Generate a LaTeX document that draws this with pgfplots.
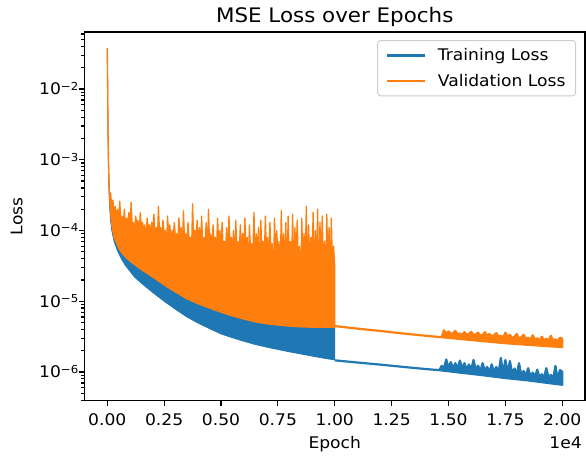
\documentclass[border=0pt]{standalone}
\usepackage{pgfplots}
\pgfplotsset{compat=1.18}
\usepackage{fontspec}
\setmainfont{DejaVu Sans}[FakeStretch=1.07]
\definecolor{mblue}{HTML}{1F77B4}
\definecolor{morange}{HTML}{FF7F0E}
\newcommand{\sci}[1]{10\raisebox{4.5pt}{\fontsize{11}{13}\selectfont −#1}}
\begin{document}
\begin{tikzpicture}[font=\fontsize{16}{19}\selectfont]
\useasboundingbox (0,0) rectangle (586pt,455pt);
\begin{axis}[
  at={(84.5pt,54.5pt)}, anchor=south west,
  scale only axis, width=500.5pt, height=368.5pt,
  clip mode=individual,
  xmin=-1000, xmax=21000,
  ymode=log, ymin=3.95e-7, ymax=0.064,
  xtick={0,2500,5000,7500,10000,12500,15000,17500,20000},
  xticklabels={0.00,0.25,0.50,0.75,1.00,1.25,1.50,1.75,2.00},
  scaled x ticks=false,
  ytick={1e-6,1e-5,1e-4,1e-3,1e-2},
  yticklabels={\sci{6},\sci{5},\sci{4},\sci{3},\sci{2}},
  minor ytick={4e-7,5e-7,6e-7,7e-7,8e-7,9e-7,
    2e-6,3e-6,4e-6,5e-6,6e-6,7e-6,8e-6,9e-6,
    2e-5,3e-5,4e-5,5e-5,6e-5,7e-5,8e-5,9e-5,
    2e-4,3e-4,4e-4,5e-4,6e-4,7e-4,8e-4,9e-4,
    2e-3,3e-3,4e-3,5e-3,6e-3,7e-3,8e-3,9e-3,
    2e-2,3e-2,4e-2,5e-2,6e-2},
  tick align=outside, xtick pos=left, ytick pos=left,
  major tick length=5.5pt, minor tick length=3.1pt,
  tick style={black, line width=1.2pt},
  axis line style={black, line width=1.2pt},
  xticklabel style={anchor=base, yshift=-19.5pt, inner sep=0pt},
  yticklabel style={anchor=base east, xshift=-0.5pt, yshift=-5.85pt, inner sep=0pt},
  title={MSE Loss over Epochs},
  title style={font=\fontsize{20}{24}\selectfont, at={(axis description cs:0.5,1)}, anchor=base, yshift=4pt, inner sep=0pt},
  xlabel={Epoch},
  xlabel style={at={(axis description cs:0.5,0)}, anchor=base, yshift=-47.5pt, inner sep=0pt},
  legend style={at={(1,1)}, anchor=north east, xshift=-9pt, yshift=-8pt,
    draw=black!20, line width=1pt, rounded corners=3pt,
    inner xsep=8pt, inner ysep=6pt, row sep=8pt,
    font=\fontsize{16}{19}\selectfont, cells={anchor=west}},
  legend image code/.code={\draw[#1] (0pt,0pt) -- (38pt,0pt); \path (48pt,0pt);},
]
% Training loss, epochs 0-10000: band between lower edge and (hidden) top
\addplot[forget plot, draw=mblue, fill=mblue, line width=0.8pt, line join=round] coordinates {
(0,0.038) (15,0.014) (30,3.5e-3) (50,1.2e-3) (75,5.5e-4) (100,3.3e-4) (150,1.9e-4) (200,1.3e-4)
(300,8.8e-5) (450,6.8e-5) (600,5.5e-5) (800,4.6e-5) (1000,4.1e-5) (1200,3.6e-5) (1500,3.1e-5)
(2000,2.4e-5) (2500,1.9e-5) (3000,1.5e-5) (3500,1.2e-5) (4000,1.0e-5) (4500,8.8e-6) (5000,7.7e-6)
(5500,6.8e-6) (6000,6.2e-6) (6500,5.6e-6) (7000,5.3e-6) (7500,5.1e-6) (8000,4.9e-6) (8500,4.8e-6)
(9000,4.7e-6) (9500,4.7e-6) (10000,4.7e-6)
(10000,1.48e-6) (9500,1.57e-6) (9000,1.68e-6) (8500,1.8e-6) (8000,1.93e-6) (7500,2.08e-6)
(7000,2.25e-6) (6500,2.45e-6) (6000,2.72e-6) (5500,3.05e-6) (5000,3.45e-6) (4500,4.1e-6)
(4000,4.9e-6) (3500,6.0e-6) (3000,7.7e-6) (2500,1.0e-5) (2000,1.33e-5) (1500,1.8e-5) (1200,2.2e-5)
(1000,2.65e-5) (800,3.2e-5) (600,4.1e-5) (450,5.2e-5) (300,7e-5) (200,1.0e-4) (150,1.35e-4)
(100,2.3e-4) (75,3.8e-4) (50,8.5e-4) (30,2.6e-3) (15,0.011) (0,0.038)
};
% Training loss, epochs 10000-20000
\addplot[forget plot, draw=mblue, fill=mblue, line width=2.2pt, line join=round] coordinates {
(10000,1.46e-6) (11000,1.36e-6) (12000,1.27e-6) (13000,1.18e-6) (14000,1.1e-6) (14600,1.06e-6)
(14700,1.22e-6) (14800,1.13e-6) (14900,1.5e-6) (15000,1.15e-6) (15100,1.38e-6) (15200,1.13e-6)
(15300,1.33e-6) (15400,1.11e-6) (15500,1.45e-6) (15600,1.12e-6) (15700,1.33e-6) (15800,1.08e-6)
(15900,1.28e-6) (16000,1.07e-6) (16100,1.48e-6) (16200,1.07e-6) (16300,1.23e-6) (16400,1.03e-6)
(16500,1.33e-6) (16600,1.03e-6) (16700,1.18e-6) (16800,1.0e-6) (16900,1.28e-6) (17000,0.99e-6)
(17100,1.18e-6) (17200,0.97e-6) (17300,1.58e-6) (17400,0.96e-6) (17500,1.48e-6) (17600,0.96e-6)
(17700,1.43e-6) (17800,0.94e-6) (17900,1.12e-6) (18000,0.92e-6) (18100,1.33e-6) (18200,0.9e-6)
(18300,1.03e-6) (18400,0.88e-6) (18500,1.13e-6) (18600,0.87e-6) (18700,0.98e-6) (18800,0.85e-6)
(18900,1.08e-6) (19000,0.84e-6) (19100,0.93e-6) (19200,0.82e-6) (19300,1.13e-6) (19400,0.82e-6)
(19500,0.91e-6) (19600,0.8e-6) (19700,1.22e-6) (19800,0.79e-6) (19900,1.07e-6) (20000,1.0e-6)
(20000,0.66e-6) (19500,0.69e-6) (18500,0.76e-6) (17500,0.82e-6) (16500,0.9e-6) (15500,0.98e-6)
(14600,1.06e-6) (14000,1.1e-6) (13000,1.18e-6) (12000,1.27e-6) (11000,1.36e-6) (10000,1.46e-6)
};
% Validation loss, epochs 0-10000: spiky top, then lower edge back
\addplot[forget plot, draw=morange, fill=morange, line width=1.3pt, line join=round] coordinates {
(0,0.038) (10,0.024) (20,0.011) (30,4e-3) (45,1.5e-3) (60,8e-4) (80,5e-4) (100,3.4e-4)
(150,3.4e-4) (200,2.0e-4) (250,2.7e-4) (300,1.6e-4) (350,2.2e-4) (400,1.4e-4) (450,2.0e-4)
(500,1.3e-4) (550,2.6e-4) (600,1.3e-4) (650,1.6e-4) (700,1.1e-4) (750,2.0e-4) (800,1.1e-4)
(850,1.5e-4) (900,1.1e-4) (950,1.8e-4) (1000,1.1e-4)
(1050,2.5e-4) (1100,1.1e-4) (1150,1.3e-4) (1200,9e-5) (1250,1.6e-4) (1300,1.2e-4) (1350,1.4e-4)
(1400,8e-5) (1450,1.8e-4) (1500,1.1e-4) (1550,1.3e-4) (1600,1.0e-4) (1650,1.2e-4) (1700,6e-5)
(1750,1.5e-4) (1800,1.05e-4) (1850,1.2e-4) (1900,9e-5) (1950,1.3e-4) (2000,9.5e-5)
(2050,1.7e-4) (2100,8.5e-5) (2150,1.1e-4) (2200,6e-5) (2250,2.2e-4) (2300,9e-5) (2350,1.1e-4)
(2400,8e-5) (2450,1.4e-4) (2500,8.5e-5) (2550,1.0e-4) (2600,5e-5) (2650,1.6e-4) (2700,8.5e-5)
(2750,1.2e-4) (2800,7e-5) (2850,1.0e-4) (2900,8e-5) (2950,1.3e-4) (3000,7.5e-5)
(3050,9e-5) (3100,6.5e-5) (3150,1.5e-4) (3200,8e-5) (3250,1.1e-4) (3300,5e-5) (3350,1.9e-4)
(3400,7e-5) (3450,9e-5) (3500,6.5e-5) (3550,1.3e-4) (3600,7e-5) (3650,8e-5) (3700,4e-5)
(3750,2.4e-4) (3800,7e-5) (3850,1.0e-4) (3900,6.5e-5) (3950,1.4e-4) (4000,6.5e-5)
(4050,1.1e-4) (4100,6e-5) (4150,1.6e-4) (4200,5e-5) (4250,8e-5) (4300,6.5e-5) (4350,1.3e-4)
(4400,3.5e-5) (4450,2.0e-4) (4500,6e-5) (4550,9e-5) (4600,4.5e-5) (4650,1.2e-4) (4700,6.5e-5)
(4750,8e-5) (4800,5e-5) (4850,1.5e-4) (4900,6e-5) (4950,1.0e-4) (5000,5.5e-5)
(5050,1.3e-4) (5100,5e-5) (5150,7e-5) (5200,5.5e-5) (5250,1.1e-4) (5300,3.5e-5) (5350,1.6e-4)
(5400,5.5e-5) (5450,8e-5) (5500,5e-5) (5550,1.0e-4) (5600,3e-5) (5650,1.4e-4) (5700,5e-5)
(5750,7e-5) (5800,4.5e-5) (5850,1.2e-4) (5900,5e-5) (5950,9e-5) (6000,5e-5)
(6050,1.5e-4) (6100,4.5e-5) (6150,8e-5) (6200,3e-5) (6250,1.2e-4) (6300,5e-5) (6350,6.5e-5)
(6400,4.5e-5) (6450,1.8e-4) (6500,3.5e-5) (6550,9e-5) (6600,4.5e-5) (6650,1.1e-4) (6700,2e-5)
(6750,1.4e-4) (6800,4.5e-5) (6850,7e-5) (6900,3.5e-5) (6950,1.6e-4) (7000,4.5e-5)
(7050,8e-5) (7100,3.5e-5) (7150,1.3e-4) (7200,4.5e-5) (7250,6.5e-5) (7300,1.6e-5) (7350,1.5e-4)
(7400,3.5e-5) (7450,1.0e-4) (7500,4.5e-5) (7550,7e-5) (7600,2e-5) (7650,1.9e-4) (7700,3.5e-5)
(7750,9e-5) (7800,3e-5) (7850,1.3e-4) (7900,1.5e-5) (7950,1.6e-4) (8000,4e-5)
(8050,7e-5) (8100,3.5e-5) (8150,1.7e-4) (8200,2e-5) (8250,1.1e-4) (8300,3.5e-5) (8350,1.4e-4)
(8400,3e-5) (8450,6e-5) (8500,1.2e-5) (8550,1.5e-4) (8600,3.5e-5) (8650,9e-5) (8700,3e-5)
(8750,2.2e-4) (8800,1.5e-5) (8850,1.2e-4) (8900,3.5e-5) (8950,8e-5) (9000,3.5e-5)
(9050,1.8e-4) (9100,2e-5) (9150,1.0e-4) (9200,3.5e-5) (9250,2.0e-4) (9300,1.2e-5) (9350,1.3e-4)
(9400,3e-5) (9450,1.6e-4) (9500,3e-5) (9550,7e-5) (9600,1.5e-5) (9650,1.7e-4) (9700,3e-5)
(9750,1.1e-4) (9800,2e-5) (9850,1.5e-4) (9900,3e-5) (9950,6e-5) (10000,3e-5)
(10000,4.3e-6) (9500,4.3e-6) (9000,4.3e-6) (8500,4.35e-6) (8000,4.45e-6) (7500,4.6e-6)
(7000,4.8e-6) (6500,5.1e-6) (6000,5.6e-6) (5500,6.2e-6) (5000,7e-6) (4500,8e-6) (4000,9.2e-6)
(3500,1.08e-5) (3000,1.35e-5) (2500,1.7e-5) (2000,2.2e-5) (1500,2.8e-5) (1200,3.3e-5) (1000,3.7e-5)
(800,4.2e-5) (600,5e-5) (450,6.2e-5) (300,8e-5) (200,1.2e-4) (150,1.7e-4) (100,3e-4) (75,5e-4)
(50,1.1e-3) (30,3.2e-3) (15,0.013) (0,0.038)
};
% Validation loss, epochs 10000-20000
\addplot[forget plot, draw=morange, fill=morange, line width=2.2pt, line join=round] coordinates {
(10000,4.45e-6) (11000,4.1e-6) (12000,3.8e-6) (13000,3.5e-6) (14000,3.25e-6) (14700,3.1e-6)
(14800,3.9e-6) (14900,3.45e-6) (15000,3.75e-6) (15100,3.45e-6) (15200,3.55e-6) (15300,3.8e-6)
(15400,3.4e-6) (15500,3.5e-6) (15600,3.35e-6) (15700,3.65e-6) (15800,3.35e-6) (15900,3.45e-6)
(16000,3.7e-6) (16100,3.3e-6) (16200,3.4e-6) (16300,3.6e-6) (16400,3.25e-6) (16500,3.35e-6)
(16600,3.65e-6) (16700,3.2e-6) (16800,3.45e-6) (16900,3.15e-6) (17000,3.3e-6) (17100,3.55e-6)
(17200,3.15e-6) (17300,3.25e-6) (17400,3.05e-6) (17500,3.6e-6) (17600,3.1e-6) (17700,3.35e-6)
(17800,3.0e-6) (17900,3.15e-6) (18000,3.45e-6) (18100,2.95e-6) (18200,3.1e-6) (18300,3.35e-6)
(18400,2.9e-6) (18500,3.05e-6) (18600,2.85e-6) (18700,3.3e-6) (18800,2.85e-6) (18900,3.0e-6)
(19000,2.8e-6) (19100,3.15e-6) (19200,2.8e-6) (19300,2.95e-6) (19400,2.75e-6) (19500,3.25e-6)
(19600,2.75e-6) (19700,2.9e-6) (19800,2.7e-6) (19900,3.05e-6) (20000,2.95e-6)
(20000,2.25e-6) (19500,2.3e-6) (18500,2.42e-6) (17500,2.55e-6) (16500,2.73e-6) (15500,2.93e-6)
(14700,3.1e-6) (14000,3.25e-6) (13000,3.5e-6) (12000,3.8e-6) (11000,4.1e-6) (10000,4.45e-6)
};
\addlegendimage{mblue, line width=2.4pt}
\addlegendentry{Training Loss}
\addlegendimage{morange, line width=2.4pt}
\addlegendentry{Validation Loss}
\node[anchor=base east, inner sep=0pt, xshift=-3pt, yshift=-47.5pt] at (axis description cs:1,0) {1e4};
\node[anchor=base, rotate=90, inner sep=0pt] at (axis description cs:-0.1239,0.5) {Loss};
\end{axis}
\end{tikzpicture}
\end{document}
